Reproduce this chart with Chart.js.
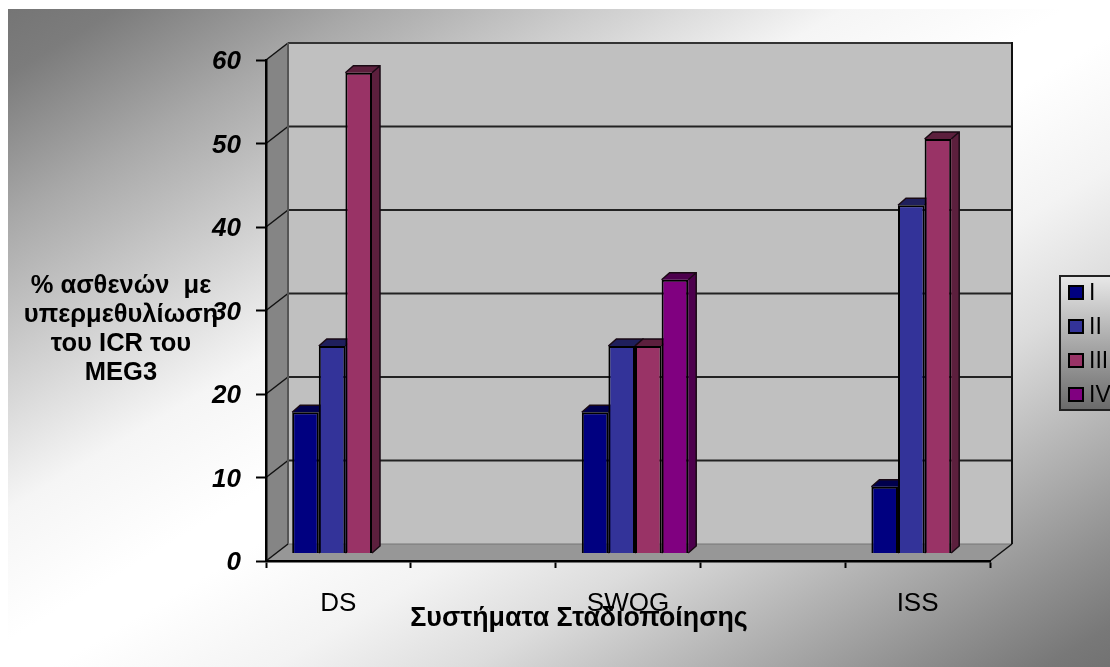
<!DOCTYPE html>
<html>
<head>
<meta charset="utf-8">
<title>Συστήματα Σταδιοποίησης</title>
<script src="https://cdn.jsdelivr.net/npm/chart.js@4"></script>
<style>
    html, body { margin: 0; padding: 0; background: #fff; overflow: hidden; }
    #backdrop {
        position: absolute; left: 8px; top: 9px; right: 0; bottom: 0;
        background: linear-gradient(to bottom right,
            #757575 0%, #7c7c7c 5%, #a8a8a8 16%, #d5d5d5 29%, #f5f5f5 38%, #ffffff 48%,
            #ffffff 52%, #f3f3f3 62%, #dcdcdc 71%, #b5b5b5 81%, #909090 90.5%, #787878 97%, #727272 100%);
    }
    #chart { position: absolute; left: 0; top: 0; }
</style>
</head>
<body>
<div id="backdrop"></div>
<canvas id="chart" width="1110" height="667"></canvas>
<script>
// Data
const categories = ['DS', '', 'SWOG', '', 'ISS'];
const stageI = [17, null, 17, null, 8];
const stageII = [25, null, 25, null, 42];
const stageIII = [58, null, 25, null, 50];
const stageIV = [null, null, 33, null, null];

const stageLabels = ['I', 'II', 'III', 'IV'];
const stageColors = ['#000080', '#333399', '#993366', '#800080'];
const stageDark = ['#00004d', '#1f1f5c', '#5c1f3d', '#4d004d'];

const yTitleLines = ['% ασθενών  με', 'υπερμεθυλίωση', 'του ICR του', 'MEG3'];
const xTitle = 'Συστήματα Σταδιοποίησης';

// Depth of the 3D box and of the bars inside it
const boxDepth = { x: 22, y: 17 };
const barShift = { x: 7, y: 8 };
const barDepth = { x: 8, y: 7 };

const sansFont = '"Liberation Sans", Arial, sans-serif';

function fillPoly(ctx, pts, color) {
    ctx.beginPath();
    pts.forEach((p, i) => i ? ctx.lineTo(p[0], p[1]) : ctx.moveTo(p[0], p[1]));
    ctx.closePath();
    ctx.fillStyle = color;
    ctx.fill();
}

function strokeLine(ctx, x1, y1, x2, y2, color, width) {
    ctx.beginPath();
    ctx.moveTo(x1, y1);
    ctx.lineTo(x2, y2);
    ctx.strokeStyle = color;
    ctx.lineWidth = width;
    ctx.stroke();
}

// Side wall, back wall, floor and their gridlines
const boxPlugin = {
    id: 'box3d',
    beforeDraw(chart) {
        const ctx = chart.ctx;
        const { left, right, top, bottom } = chart.chartArea;
        const dx = boxDepth.x, dy = boxDepth.y;
        ctx.save();
        fillPoly(ctx, [[left + dx, top - dy], [right + dx, top - dy], [right + dx, bottom - dy], [left + dx, bottom - dy]], '#c0c0c0');
        fillPoly(ctx, [[left, top], [left + dx, top - dy], [left + dx, bottom - dy], [left, bottom]], '#858585');
        fillPoly(ctx, [[left, bottom], [left + dx, bottom - dy], [right + dx, bottom - dy], [right, bottom]], '#979797');

        chart.scales.y.ticks.forEach(t => {
            const y = chart.scales.y.getPixelForValue(t.value);
            if (t.value > 0) {
                strokeLine(ctx, left + dx, y - dy, right + dx, y - dy, t.value === 60 ? '#333' : '#222', 2);
                strokeLine(ctx, left, y, left + dx, y - dy, '#111', 1.5);
            }
        });
        strokeLine(ctx, left + dx, top - dy, left + dx, bottom - dy, '#555', 2);
        strokeLine(ctx, left + dx, bottom - dy, right + dx, bottom - dy, '#777', 1);
        strokeLine(ctx, right + dx, top - dy - 1, right + dx, bottom - dy, '#111', 2);
        strokeLine(ctx, left, bottom, left + dx, bottom - dy, '#111', 1.5);
        strokeLine(ctx, right, bottom, right + dx, bottom - dy, '#111', 1.5);
        ctx.restore();
    },
    // Bars sit halfway into the box: side and top faces first, library draws the fronts
    beforeDatasetsDraw(chart) {
        const ctx = chart.ctx;
        ctx.save();
        ctx.translate(barShift.x, -barShift.y);
        const dx = barDepth.x, dy = barDepth.y;
        chart.data.datasets.forEach((ds, i) => {
            chart.getDatasetMeta(i).data.forEach((bar, j) => {
                if (ds.data[j] === null) return;
                const p = bar.getProps(['x', 'y', 'base', 'width']);
                const l = p.x - p.width / 2, r = p.x + p.width / 2;
                fillPoly(ctx, [[r, p.y], [r + dx, p.y - dy], [r + dx, p.base - dy], [r, p.base]], stageDark[i]);
                fillPoly(ctx, [[l, p.y], [l + dx, p.y - dy], [r + dx, p.y - dy], [r, p.y]], stageDark[i]);
                ctx.beginPath();
                ctx.moveTo(l, p.y);
                ctx.lineTo(l + dx, p.y - dy);
                ctx.lineTo(r + dx, p.y - dy);
                ctx.lineTo(r + dx, p.base - dy);
                ctx.lineTo(r, p.base);
                ctx.moveTo(r, p.y);
                ctx.lineTo(r + dx, p.y - dy);
                ctx.strokeStyle = '#1a0a14';
                ctx.lineWidth = 1.5;
                ctx.stroke();
            });
        });
    },
    afterDatasetsDraw(chart) {
        chart.ctx.restore();
    },
    afterDraw(chart) {
        const ctx = chart.ctx;
        ctx.save();
        ctx.fillStyle = '#000';
        ctx.textAlign = 'center';
        ctx.textBaseline = 'middle';
        ctx.font = 'bold 25.5px ' + sansFont;
        yTitleLines.forEach((line, i) => ctx.fillText(line, 121, 286 + i * 29));
        ctx.font = 'bold 26.8px ' + sansFont;
        ctx.fillText(xTitle, 579, 619);

        // Legend, cut by the right edge of the page
        const boxX = 1060, boxY = 276, boxH = 134;
        const grad = ctx.createLinearGradient(0, boxY, 0, boxY + boxH);
        grad.addColorStop(0, '#e8e8e8');
        grad.addColorStop(1, '#6a6a6a');
        ctx.fillStyle = grad;
        ctx.fillRect(boxX, boxY, 60, boxH);
        ctx.strokeStyle = '#222';
        ctx.lineWidth = 2;
        ctx.strokeRect(boxX, boxY, 60, boxH);
        ctx.textAlign = 'left';
        ctx.font = '23px ' + sansFont;
        stageLabels.forEach((label, i) => {
            const rowY = 292 + i * 34;
            ctx.fillStyle = stageColors[i];
            ctx.fillRect(1069, rowY - 6, 14, 13);
            ctx.strokeStyle = '#000';
            ctx.lineWidth = 2;
            ctx.strokeRect(1069, rowY - 6, 14, 13);
            ctx.fillStyle = '#000';
            ctx.fillText(label, 1089, rowY + 2);
        });
        ctx.restore();
    }
};

const datasets = [stageI, stageII, stageIII, stageIV].map((values, i) => ({
    label: stageLabels[i],
    data: values,
    yAxisID: 'yBars',
    backgroundColor: stageColors[i],
    borderColor: '#000',
    borderWidth: 2,
    categoryPercentage: 0.735,
    barPercentage: 1
}));

new Chart(document.getElementById('chart').getContext('2d'), {
    type: 'bar',
    data: { labels: categories, datasets: datasets },
    options: {
        responsive: false,
        animation: false,
        layout: { padding: { left: 0, top: 60, right: 120, bottom: 0 } },
        plugins: { legend: { display: false }, title: { display: false }, tooltip: { enabled: false } },
        scales: {
            x: {
                afterFit(scale) { scale.height = 106; },
                border: { color: '#000', width: 2.5 },
                grid: { offset: true, drawOnChartArea: false, tickColor: '#000', tickWidth: 2, tickLength: 7 },
                ticks: {
                    color: '#000',
                    padding: 20,
                    maxRotation: 0,
                    autoSkip: false,
                    font: { family: sansFont, size: 26 }
                }
            },
            y: {
                min: 0,
                max: 60,
                afterFit(scale) { scale.width = 266; },
                border: { color: '#000', width: 2.5 },
                grid: { drawOnChartArea: false, tickColor: '#000', tickWidth: 2, tickLength: 10 },
                ticks: {
                    stepSize: 10,
                    color: '#000',
                    padding: 15,
                    labelOffset: 2,
                    font: { family: sansFont, size: 26, weight: 'bold', style: 'italic' }
                }
            },
            yBars: { display: false, min: 0, max: 60.5, position: 'left' }
        }
    },
    plugins: [boxPlugin]
});
</script>
</body>
</html>
